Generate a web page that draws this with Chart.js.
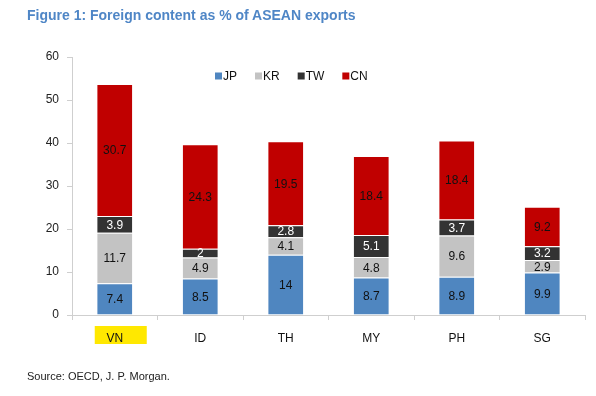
<!DOCTYPE html>
<html><head><meta charset="utf-8">
<script src="https://cdn.jsdelivr.net/npm/chart.js@4/dist/chart.umd.min.js"></script>
<style>
html,body{margin:0;padding:0;background:#fff;}
#wrap{position:relative;width:596px;height:396px;overflow:hidden;}
#title{position:absolute;left:27px;top:7px;font:bold 14px "Liberation Sans",Arial,sans-serif;color:#4f86c6;white-space:nowrap;}
#source{position:absolute;left:27px;top:370px;font:11px "Liberation Sans",Arial,sans-serif;color:#222;white-space:nowrap;}
canvas{position:absolute;left:0;top:0;}
</style></head>
<body>
<div id="wrap">
<canvas id="c" width="596" height="396"></canvas>
<div id="title">Figure 1: Foreign content as % of ASEAN exports</div>
<div id="source">Source: OECD, J. P. Morgan.</div>
</div>
<script>
const categories = ["VN","ID","TH","MY","PH","SG"];
const seriesNames = ["JP","KR","TW","CN"];
const jp = [7.4, 8.5, 14, 8.7, 8.9, 9.9];
const kr = [11.7, 4.9, 4.1, 4.8, 9.6, 2.9];
const tw = [3.9, 2, 2.8, 5.1, 3.7, 3.2];
const cn = [30.7, 24.3, 19.5, 18.4, 18.4, 9.2];
const yTicks = [0,10,20,30,40,50,60];
const highlighted = "VN";

const colors = ["#4f86c0","#c3c3c3","#333333","#c00000"];
const labelColors = ["#111","#111","#ffffff","#111"];
const FONT = '"Liberation Sans", Arial, sans-serif';

const seriesData = [jp, kr, tw, cn];
const datasets = seriesNames.map((n,i)=>({
  label:n, data:seriesData[i], backgroundColor:colors[i],
  borderColor:'rgba(255,255,255,0.5)', borderWidth:{top:1,bottom:0,left:0,right:0},
  barPercentage:0.41, categoryPercentage:1.0
}));

const helperPlugin = {
  id:'helper',
  beforeDraw(chart){
    const ctx = chart.ctx;
    const xs = chart.scales.x;
    const idx = categories.indexOf(highlighted);
    if(idx>=0){
      const cx = xs.getPixelForValue(idx);
      ctx.save();
      ctx.fillStyle = '#ffe800';
      ctx.fillRect(cx-20, 326, 52, 18);
      ctx.restore();
    }
  },
  afterDatasetsDraw(chart){
    const ctx = chart.ctx;
    ctx.save();
    ctx.font = '12px ' + FONT;
    ctx.textAlign = 'center';
    ctx.textBaseline = 'middle';
    chart.data.datasets.forEach((ds,di)=>{
      const meta = chart.getDatasetMeta(di);
      meta.data.forEach((bar,i)=>{
        const v = ds.data[i];
        const y = (bar.y + bar.base)/2;
        ctx.fillStyle = labelColors[di];
        ctx.fillText(String(v), bar.x, y+1);
      });
    });
    // legend
    ctx.font = '12px ' + FONT;
    ctx.textAlign = 'left';
    let x = 215;
    const ly = 76;
    chart.data.datasets.forEach((ds,di)=>{
      ctx.fillStyle = colors[di];
      ctx.fillRect(x, ly-3.5, 7, 7);
      ctx.fillStyle = '#111';
      ctx.fillText(ds.label, x+8, ly+1);
      x += 8 + ctx.measureText(ds.label).width + 18;
    });
    ctx.restore();
  }
};

new Chart(document.getElementById('c'), {
  type:'bar',
  data:{labels:categories, datasets},
  options:{
    responsive:false, animation:false,
    layout:{padding:{left:0,right:11,top:57,bottom:0}},
    plugins:{legend:{display:false}, title:{display:false}, tooltip:{enabled:false}},
    scales:{
      x:{
        stacked:true,
        grid:{display:true, drawOnChartArea:false, offset:true, tickLength:5, color:'#cfcfcf'},
        border:{color:'#cfcfcf'},
        ticks:{color:'#111', font:{family:FONT, size:12}, padding:11},
        afterFit(s){ s.height = 81; }
      },
      y:{
        stacked:true, min:0, max:60,
        afterBuildTicks(s){ s.ticks = yTicks.map(v=>({value:v})); },
        grid:{display:true, drawOnChartArea:false, tickLength:5, color:'#cfcfcf'},
        border:{color:'#cfcfcf'},
        ticks:{color:'#222', font:{family:FONT, size:12}, padding:8},
        afterFit(s){ s.width = 72; }
      }
    }
  },
  plugins:[helperPlugin]
});
</script>
</body></html>
